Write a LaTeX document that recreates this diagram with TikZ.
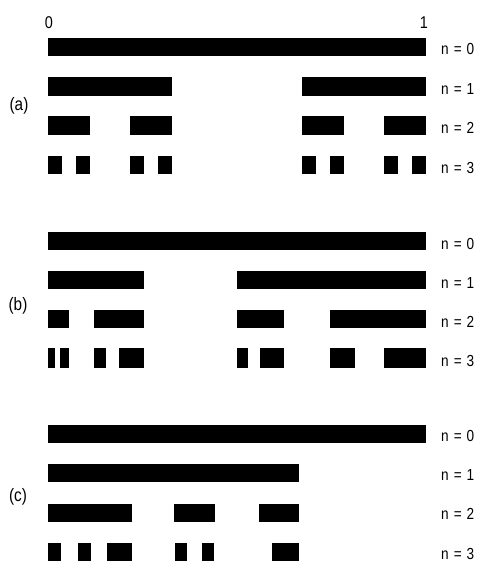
\documentclass[tikz,border=0pt]{standalone}
\usepackage{fontspec}
\setmainfont{Liberation Sans}[FakeStretch=0.85]
\begin{document}
\begin{tikzpicture}[x=1pt,y=-1pt,
  bar/.style={fill=black,draw=none},
  nlab/.style={anchor=base west,inner sep=0pt,font=\fontsize{16}{18}\selectfont},
  plab/.style={inner sep=0pt,font=\fontsize{18}{20}\selectfont},
  tlab/.style={inner sep=0pt,font=\fontsize{17}{19}\selectfont}]
\useasboundingbox (0,0) rectangle (478,561);
\newcommand{\nl}[1]{\hbox{n\hspace{5pt}=\hspace{5pt}#1}}
% top labels
\node[tlab] (zero) at (49,23) {0};
\node[tlab] (one) at (424,23) {1};
% (a)
\node[plab] (pa) at (19,106) {(a)};
\foreach \a/\b in {48/426} \fill[bar] (\a,37.7) rectangle (\b,56);
\foreach \a/\b in {48/172,302/426} \fill[bar] (\a,77.3) rectangle (\b,96);
\foreach \a/\b in {48/90,130/172,302/344,384/426} \fill[bar] (\a,116) rectangle (\b,134.7);
\foreach \a/\b in {48/62,76/90,130/144,158/172,302/316,330/344,384/398,412/426} \fill[bar] (\a,155.7) rectangle (\b,174.3);
\node[nlab] (a0) at (441,55) {\nl{0}};
\node[nlab] (a1) at (441,95) {\nl{1}};
\node[nlab] (a2) at (441,134) {\nl{2}};
\node[nlab] (a3) at (441,173.5) {\nl{3}};
% (b)
\node[plab] (pb) at (18,306) {(b)};
\foreach \a/\b in {48/426} \fill[bar] (\a,231.7) rectangle (\b,250);
\foreach \a/\b in {48/144,237/426} \fill[bar] (\a,271) rectangle (\b,289);
\foreach \a/\b in {48/69,94/144,237/284,330/426} \fill[bar] (\a,310) rectangle (\b,328.3);
\foreach \a/\b in {48/55,60/69,94/106,119/144,237/247.5,259.5/284,330/355,384/426} \fill[bar] (\a,348.3) rectangle (\b,367.7);
\node[nlab] (b0) at (441,249) {\nl{0}};
\node[nlab] (b1) at (441,288) {\nl{1}};
\node[nlab] (b2) at (441,327.5) {\nl{2}};
\node[nlab] (b3) at (441,366.5) {\nl{3}};
% (c)
\node[plab] (pc) at (18,497) {(c)};
\foreach \a/\b in {48/426} \fill[bar] (\a,425) rectangle (\b,443.3);
\foreach \a/\b in {48/298.5} \fill[bar] (\a,464) rectangle (\b,482.3);
\foreach \a/\b in {48/132,174/215,259/299} \fill[bar] (\a,503.5) rectangle (\b,521.7);
\foreach \a/\b in {48/61,78/91,107/132,175/187,202/213.5,272/298.5} \fill[bar] (\a,543.3) rectangle (\b,561);
\node[nlab] (c0) at (441,441.5) {\nl{0}};
\node[nlab] (c1) at (441,480.5) {\nl{1}};
\node[nlab] (c2) at (441,519.5) {\nl{2}};
\node[nlab] (c3) at (441,559) {\nl{3}};
\end{tikzpicture}
\end{document}
